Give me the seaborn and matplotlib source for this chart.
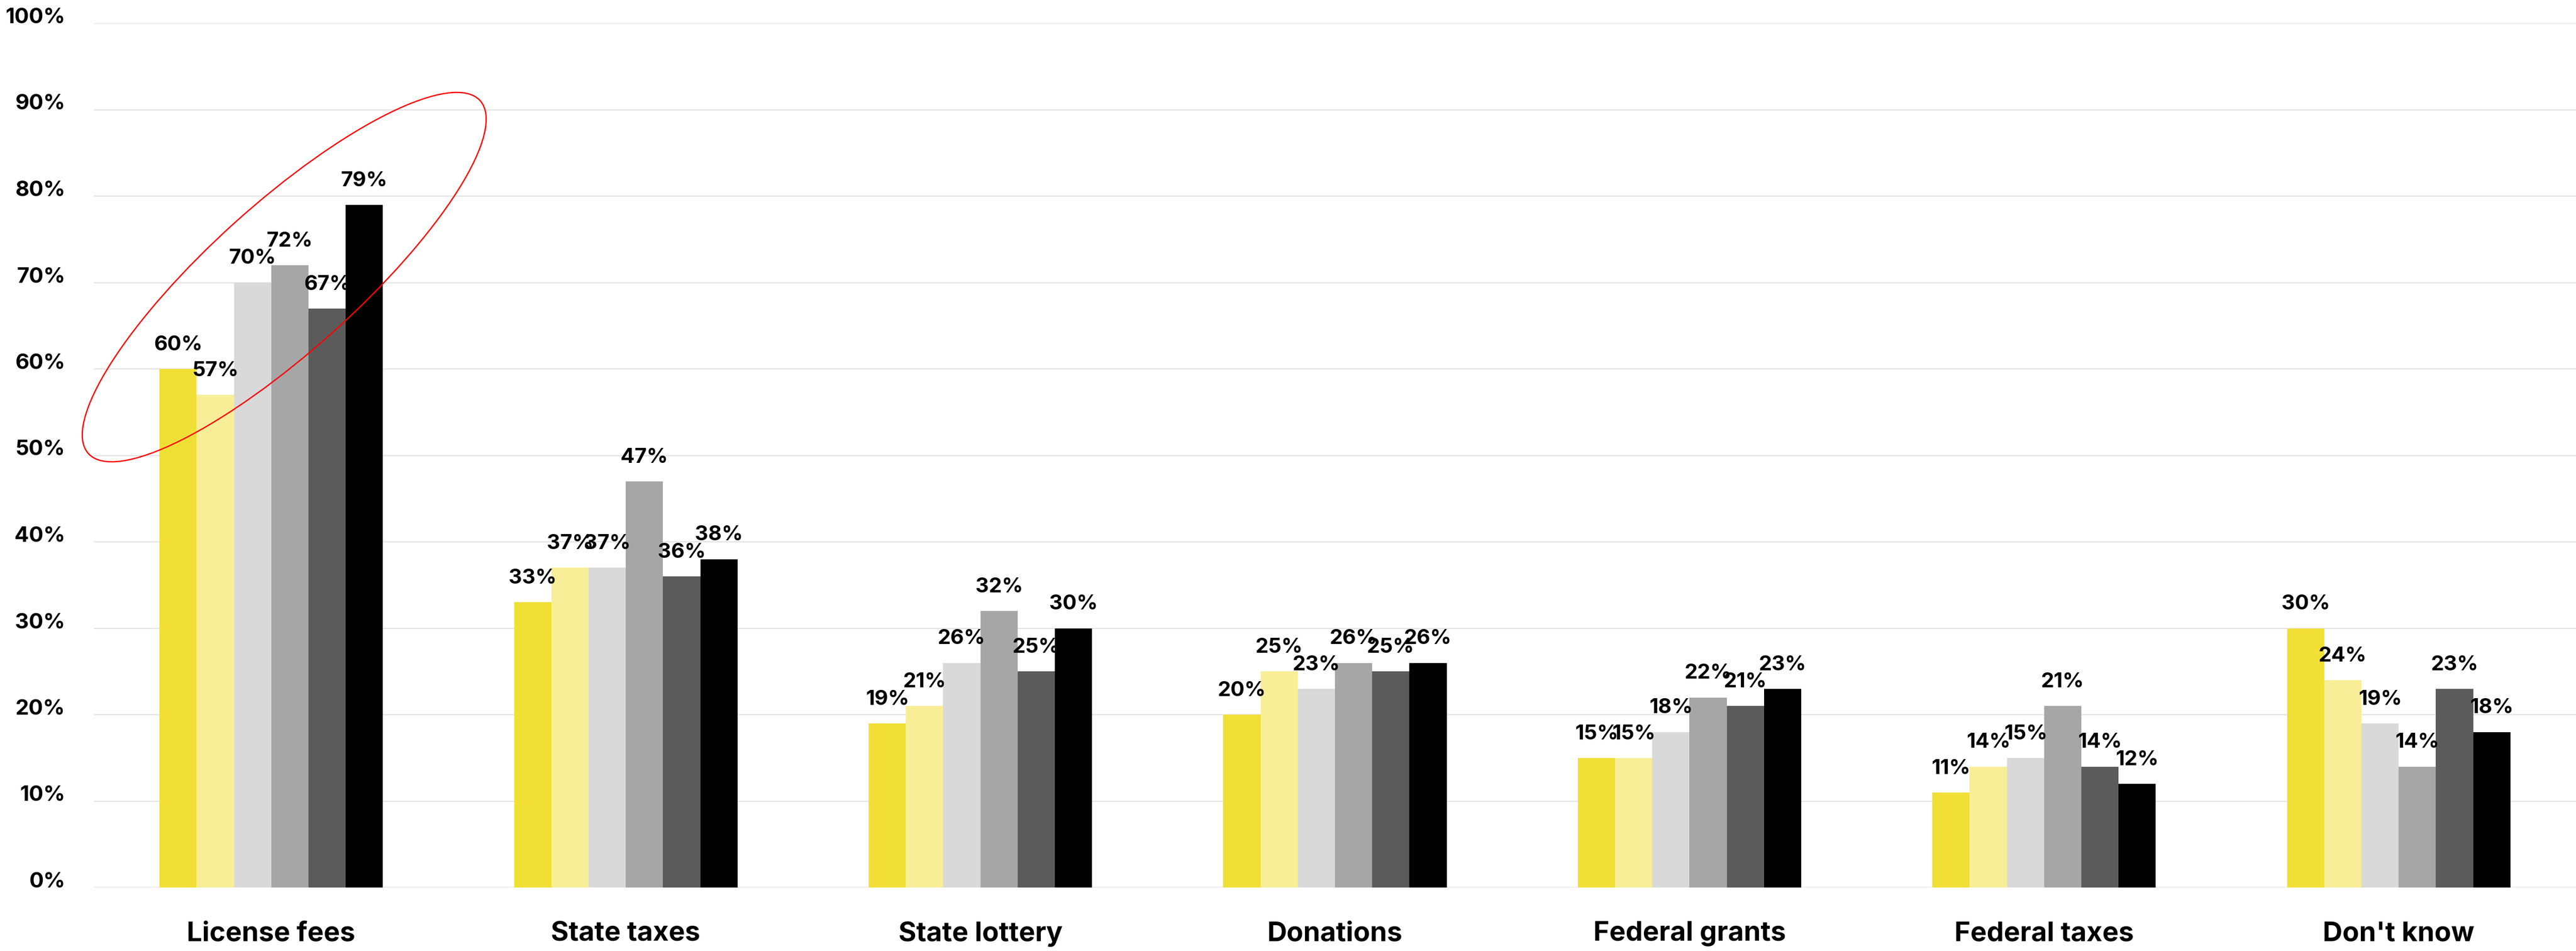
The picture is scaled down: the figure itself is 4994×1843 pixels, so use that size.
import matplotlib
matplotlib.use("Agg")
import matplotlib.pyplot as plt
from matplotlib.patches import Ellipse
import seaborn as sns
import pandas as pd

categories = ["License fees", "State taxes", "State lottery", "Donations",
              "Federal grants", "Federal taxes", "Don't know"]
series_names = ["Series 1", "Series 2", "Series 3", "Series 4", "Series 5", "Series 6"]
license_fees = [60, 57, 70, 72, 67, 79]
state_taxes = [33, 37, 37, 47, 36, 38]
state_lottery = [19, 21, 26, 32, 25, 30]
donations = [20, 25, 23, 26, 25, 26]
federal_grants = [15, 15, 18, 22, 21, 23]
federal_taxes = [11, 14, 15, 21, 14, 12]
dont_know = [30, 24, 19, 14, 23, 18]
colors = ["#F0E036", "#F8EE98", "#D9D9D9", "#A6A6A6", "#5B5B5B", "#000000"]
y_ticks = [0, 10, 20, 30, 40, 50, 60, 70, 80, 90, 100]

values_by_cat = [license_fees, state_taxes, state_lottery, donations,
                 federal_grants, federal_taxes, dont_know]
rows = []
for cat, vals in zip(categories, values_by_cat):
    for s, v in zip(series_names, vals):
        rows.append({"category": cat, "series": s, "value": v})
df = pd.DataFrame(rows)

sns.set_theme(style="white")
FONT = ["Inter", "DejaVu Sans"]
plt.rcParams["font.family"] = FONT
plt.rcParams["font.weight"] = "bold"

DPI = 100
fig = plt.figure(figsize=(4994 / DPI, 1843 / DPI), dpi=DPI)
ax = fig.add_axes([182 / 4994, 123 / 1843, 1 - 182 / 4994, (1720 - 45) / 1843])

sns.barplot(data=df, x="category", y="value", hue="series", order=categories,
            hue_order=series_names, palette=colors, width=0.63, saturation=1,
            linewidth=0, legend=False, ax=ax)

ax.set_xlim(-0.5, len(categories) - 0.5)
ax.set_ylim(0, 100)
ax.set_yticks(y_ticks)
ax.set_yticklabels([f"{t}%" for t in y_ticks])
ax.set_xlabel("")
ax.set_ylabel("")
for sp in ax.spines.values():
    sp.set_visible(False)
ax.set_axisbelow(True)
ax.yaxis.grid(True, color="#E3E3E3", linewidth=1.6)
ax.xaxis.grid(False)
ax.tick_params(axis="y", length=0, pad=40, labelsize=30, labelcolor="black")
ax.tick_params(axis="x", length=0, pad=47, labelsize=38, labelcolor="black")
for lab in ax.get_yticklabels():
    lab.set_fontweight("bold")
    lab.set_va("baseline")
for lab in ax.get_xticklabels():
    lab.set_fontweight("bold")

for container in ax.containers:
    for bar in container:
        h = bar.get_height()
        ax.annotate(f"{h:.0f}%", (bar.get_x() + bar.get_width() / 2, h),
                    xytext=(0, 26), textcoords="offset points",
                    ha="center", va="baseline", fontsize=29,
                    fontweight="bold", color="black", annotation_clip=False)

ell = Ellipse((551 / DPI, (1843 - 537) / DPI), width=1022 / DPI, height=285 / DPI,
              angle=42, fill=False, edgecolor="#FF0000", linewidth=1.8,
              transform=fig.dpi_scale_trans)
fig.add_artist(ell)

fig.savefig("out.png", dpi=DPI, facecolor="white")
